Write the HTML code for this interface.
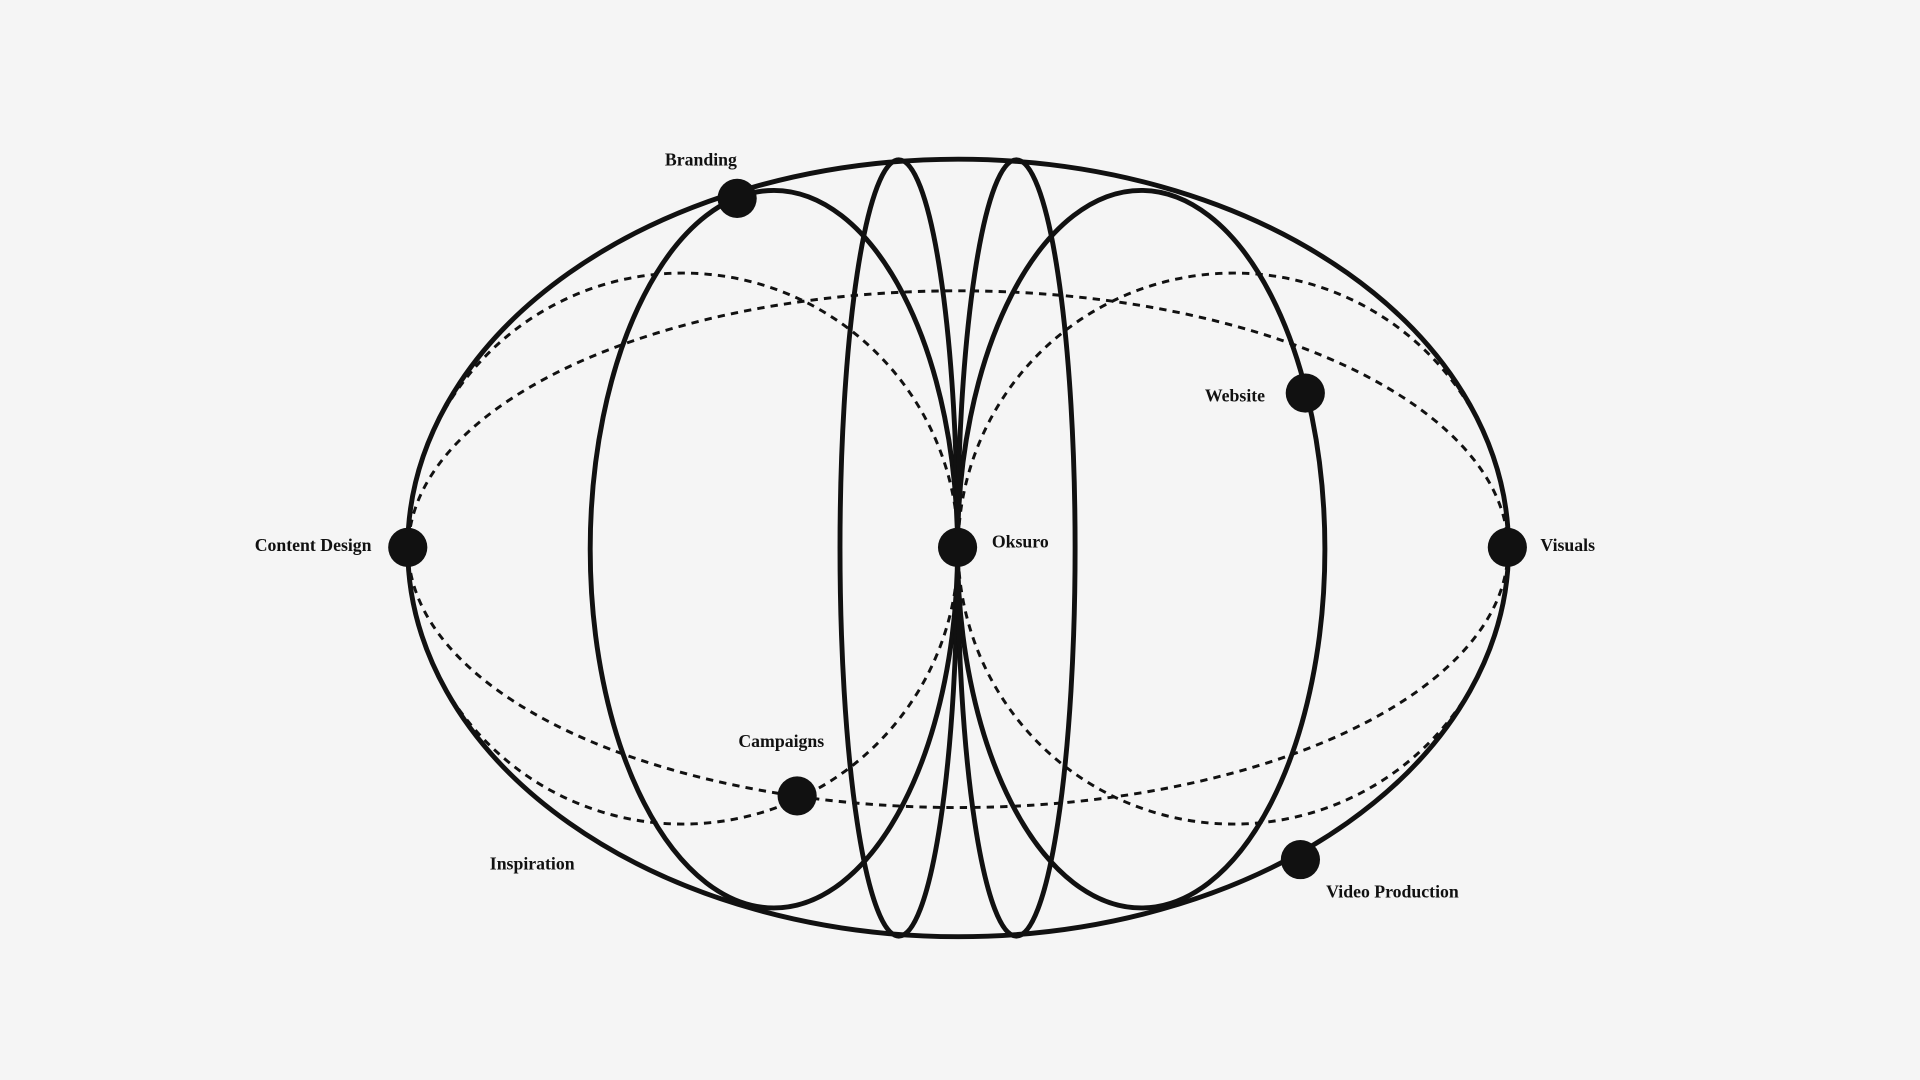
<!DOCTYPE html>
<html><head><meta charset="utf-8"><style>
html,body{margin:0;padding:0;background:#f5f5f5;}
svg{display:block}
text{font-family:"Liberation Serif",serif;font-size:14.5px;font-weight:bold;fill:#111;}
</style></head><body>
<svg width="1920" height="1080" viewBox="0 0 1568 882" xmlns="http://www.w3.org/2000/svg">
<rect width="1568" height="882" fill="#f5f5f5"/>
<g fill="none" stroke="#111" stroke-width="2.4" stroke-dasharray="6 5">
<ellipse cx="782.5" cy="448.5" rx="449" ry="211"/>
<ellipse cx="557.5" cy="448" rx="225" ry="225"/>
<ellipse cx="1007.5" cy="448" rx="225" ry="225"/>
</g>
<g fill="none" stroke="#111" stroke-width="4">
<ellipse cx="782.5" cy="447.5" rx="449.5" ry="317.5"/>
<ellipse cx="632" cy="448.5" rx="150" ry="293"/>
<ellipse cx="932" cy="448.5" rx="150" ry="293"/>
<ellipse cx="734" cy="447.5" rx="48" ry="317"/>
<ellipse cx="830" cy="447.5" rx="48" ry="317"/>
</g>
<g fill="#111">
<circle cx="602" cy="162" r="16"/>
<circle cx="1066" cy="321" r="16"/>
<circle cx="333" cy="447" r="16"/>
<circle cx="782" cy="447" r="16"/>
<circle cx="1231" cy="447" r="16"/>
<circle cx="651" cy="650" r="16"/>
<circle cx="1062" cy="702" r="16"/>
</g>
<text x="543" y="135">Branding</text>
<text x="984" y="328">Website</text>
<text x="208" y="450">Content Design</text>
<text x="810" y="447">Oksuro</text>
<text x="1258" y="450">Visuals</text>
<text x="603" y="610">Campaigns</text>
<text x="400" y="710">Inspiration</text>
<text x="1083" y="733">Video Production</text>
</svg>
</body></html>
